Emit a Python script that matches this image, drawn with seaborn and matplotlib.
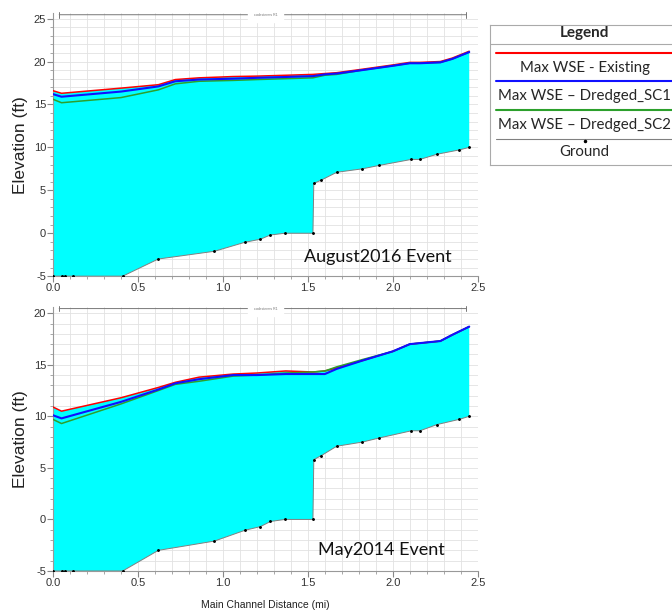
import numpy as np
import pandas as pd
import matplotlib
matplotlib.use("Agg")
import matplotlib.pyplot as plt
from matplotlib.ticker import MultipleLocator, FormatStrFormatter
import seaborn as sns

## Datos: estaciones (mi) y elevaciones (ft)

ground_mi = [0.0, 0.05, 0.07, 0.12, 0.41, 0.62, 0.95, 1.13, 1.22, 1.28, 1.365, 1.53,
             1.535, 1.58, 1.67, 1.82, 1.92, 2.11, 2.16, 2.26, 2.39, 2.45]
ground_ft = [-5, -5, -5, -5, -5, -3.0, -2.1, -1.05, -0.7, -0.2, 0.0, 0.0,
             5.8, 6.2, 7.1, 7.5, 7.9, 8.6, 8.6, 9.2, 9.7, 10.0]

wse_mi = [0.0, 0.05, 0.4, 0.62, 0.72, 0.86, 1.06, 1.2, 1.37, 1.53, 1.6, 1.67,
          1.82, 2.0, 2.1, 2.16, 2.28, 2.35, 2.45]

aug_existing = [16.6, 16.3, 16.9, 17.3, 17.9, 18.1, 18.25, 18.3, 18.4, 18.5, 18.6, 18.7,
                19.1, 19.6, 19.9, 19.9, 20.0, 20.4, 21.2]
aug_sc1 = [16.2, 15.9, 16.5, 17.1, 17.7, 17.9, 18.0, 18.1, 18.2, 18.3, 18.5, 18.6,
           19.0, 19.5, 19.8, 19.8, 19.9, 20.3, 21.1]
aug_sc2 = [15.6, 15.2, 15.8, 16.7, 17.4, 17.7, 17.8, 17.9, 18.0, 18.1, 18.4, 18.5,
           19.0, 19.5, 19.8, 19.8, 19.9, 20.3, 21.1]

may_existing = [10.9, 10.5, 11.8, 12.8, 13.3, 13.8, 14.1, 14.2, 14.4, 14.3, 14.4, 14.7,
                15.4, 16.3, 17.0, 17.1, 17.3, 17.9, 18.7]
may_sc1 = [10.1, 9.8, 11.4, 12.6, 13.2, 13.6, 14.0, 14.0, 14.1, 14.1, 14.1, 14.6,
           15.4, 16.3, 17.0, 17.1, 17.3, 17.9, 18.7]
may_sc2 = [9.7, 9.3, 11.2, 12.5, 13.1, 13.4, 13.9, 14.0, 14.2, 14.3, 14.4, 14.8,
           15.5, 16.3, 17.0, 17.1, 17.3, 17.9, 18.7]

series_names = ["Max WSE - Existing", "Max WSE \u2013 Dredged_SC1", "Max WSE \u2013 Dredged_SC2"]
series_colors = ["#ff0000", "#1010ff", "#2ca02c"]
events = [("August2016 Event", [aug_existing, aug_sc1, aug_sc2], 25.6, (1.48, -2.8)),
          ("May2014 Event", [may_existing, may_sc1, may_sc2], 20.6, (1.56, -3.0))]

sns.set_style("white")
plt.rcParams['font.family'] = ['Liberation Sans', 'DejaVu Sans']
plt.rcParams['axes.unicode_minus'] = False

fig = plt.figure(figsize=(6.72, 6.11), dpi=100)
ax_top = fig.add_axes([0.0789, 0.548, 0.632, 0.430])
ax_bot = fig.add_axes([0.0789, 0.0655, 0.632, 0.432])

## Bloque: cada evento

for ax, (evento, wse, ytop, pos_txt) in zip([ax_top, ax_bot], events):
    df = pd.DataFrame({"mi": wse_mi, "Existing": wse[0], "SC1": wse[1], "SC2": wse[2]})
    top = np.maximum.reduce([df["Existing"], df["SC1"], df["SC2"]])

    # agua (relleno cian entre terreno y WSE)
    ax.fill(list(wse_mi) + ground_mi[::-1], list(top) + ground_ft[::-1],
            color="#00ffff", lw=0, zorder=2)

    for col, c in zip(["Existing", "SC2", "SC1"], [series_colors[0], series_colors[2], series_colors[1]]):
        sns.lineplot(data=df, x="mi", y=col, ax=ax, color=c, lw=1.5 if col == "SC1" else 1.1,
                     zorder=4, estimator=None, sort=False)

    sns.lineplot(x=ground_mi, y=ground_ft, ax=ax, color="#808080", lw=0.7, marker="o",
                 markersize=1.3, markerfacecolor="black", markeredgecolor="black",
                 zorder=5, estimator=None, sort=False)

    ax.set_xlim(0, 2.5)
    ax.set_ylim(-5, ytop)
    ax.xaxis.set_major_locator(MultipleLocator(0.5))
    ax.xaxis.set_minor_locator(MultipleLocator(0.1))
    ax.xaxis.set_major_formatter(FormatStrFormatter("%.1f"))
    ax.yaxis.set_major_locator(MultipleLocator(5))
    ax.yaxis.set_minor_locator(MultipleLocator(1))
    ax.grid(True, which="both", color="#e2e2e2", lw=0.6, zorder=0)
    ax.set_axisbelow(True)
    ax.tick_params(which="major", direction="out", length=4, color="#888888",
                   labelsize=8, labelcolor="#333333", bottom=True, left=True, pad=1)
    ax.tick_params(which="minor", direction="out", length=2, color="#999999", bottom=True, left=True)
    for s in ["top", "right"]:
        ax.spines[s].set_visible(False)
    for s in ["left", "bottom"]:
        ax.spines[s].set_color("#999999")
        ax.spines[s].set_linewidth(0.8)
    ax.set_ylabel("Elevation (ft)", fontsize=12.5, color="#222222", labelpad=4)
    ax.set_xlabel("")

    # linea superior con marca del tramo
    ax.annotate("", xy=(2.45, ytop - 0.15), xytext=(0.02, ytop - 0.15),
                arrowprops=dict(arrowstyle="|-|", color="#777777", lw=0.7,
                                mutation_scale=2), annotation_clip=False)
    ax.text(1.25, ytop - 0.15, "codesterms R1", fontsize=2.5, color="#777777",
            ha="center", va="center", backgroundcolor="white")

    ax.text(pos_txt[0], pos_txt[1], evento, fontsize=13,
            family=["Lato", "DejaVu Sans"], color="#111111", ha="left", va="center")

ax_bot.set_xlabel("Main Channel Distance (mi)", fontsize=7.5, color="#222222", labelpad=9)

## Bloque: leyenda (caja a la derecha)

ax_leg = fig.add_axes([0.729, 0.730, 0.32, 0.229])
ax_leg.set_xlim(0, 1)
ax_leg.set_ylim(140, 0)
ax_leg.set_xticks([])
ax_leg.set_yticks([])
for s in ax_leg.spines.values():
    s.set_color("#aaaaaa")
    s.set_linewidth(0.8)
ax_leg.text(0.44, 8, "Legend", fontsize=11, fontweight="bold",
            family=["Lato", "DejaVu Sans"], ha="center", va="center")
ax_leg.axhline(19, color="#aaaaaa", lw=0.8)
leg_y = [28, 56, 85]
for yy, nm, c in zip(leg_y, series_names, series_colors):
    ax_leg.plot([0.03, 1.0], [yy, yy], color=c, lw=1.5)
    ax_leg.text(0.44, yy + 15, nm, fontsize=10.8, family=["Lato", "DejaVu Sans"],
                ha="center", va="center")
ax_leg.plot([0.03, 1.0], [114, 114], color="#808080", lw=0.8)
ax_leg.plot([0.44], [116], "o", color="black", markersize=1.5)
ax_leg.text(0.44, 127, "Ground", fontsize=10.8, family=["Lato", "DejaVu Sans"],
            ha="center", va="center")

plt.savefig("out.png", dpi=100)
